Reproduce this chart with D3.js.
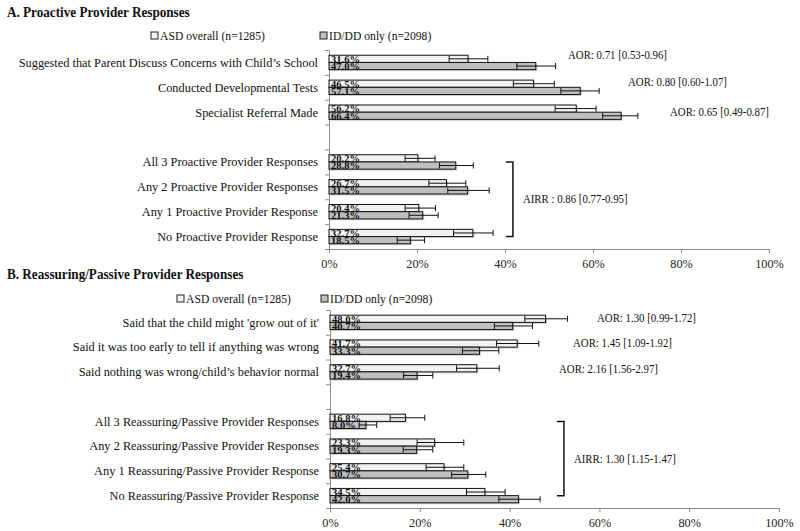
<!DOCTYPE html>
<html><head><meta charset="utf-8">
<script src="https://cdn.jsdelivr.net/npm/d3@7"></script>
<style>body{margin:0;background:#fff}svg{display:block}</style>
</head><body><div id="c"></div>
<script>
// ---------- data ----------
const catsA = ["Suggested that Parent Discuss Concerns with Child\u2019s School","Conducted Developmental Tests","Specialist Referral Made","","All 3 Proactive Provider Responses","Any 2 Proactive Provider Responses","Any 1 Proactive Provider Response","No Proactive Provider Response"];
const asdA   = [31.6,46.5,56.2,null,20.2,26.7,20.4,32.7];
const idA    = [47.0,57.1,66.4,null,28.8,31.5,21.3,18.5];
const asdALo = [27.3,41.9,51.4,null,17.3,22.7,17.3,28.3];
const asdAHi = [36.1,51.2,60.7,null,24.1,31.1,24.2,37.3];
const idALo  = [42.7,52.7,62.2,null,25.1,27.0,18.2,15.5];
const idAHi  = [51.5,61.4,70.2,null,32.8,36.4,24.8,21.7];
const aorA   = ["AOR: 0.71 [0.53-0.96]","AOR: 0.80 [0.60-1.07]","AOR: 0.65 [0.49-0.87]"];
const airrA  = "AIRR : 0.86 [0.77-0.95]";

const catsB = ["Said that the child might 'grow out of it'","Said it was too early to tell if anything was wrong","Said nothing was wrong/child\u2019s behavior normal","","All 3 Reassuring/Passive Provider Responses","Any 2 Reassuring/Passive Provider Responses","Any 1 Reassuring/Passive Provider Response","No Reassuring/Passive Provider Response"];
const asdB   = [48.0,41.7,32.7,null,16.8,23.3,25.4,34.5];
const idB    = [40.7,33.3,19.4,null,8.0,19.3,30.7,42.0];
const asdBLo = [43.4,37.1,28.2,null,13.4,19.4,21.4,30.4];
const asdBHi = [52.9,46.5,37.7,null,21.1,29.8,29.8,39.0];
const idBLo  = [36.6,29.5,16.4,null,6.5,16.3,27.1,37.6];
const idBHi  = [45.1,37.6,22.9,null,10.4,22.9,34.7,46.8];
const aorB   = ["AOR: 1.30 [0.99-1.72]","AOR: 1.45 [1.09-1.92]","AOR: 2.16 [1.56-2.97]"];
const airrB  = "AIRR: 1.30 [1.15-1.47]";

const seriesNames = ["ASD overall (n=1285)","ID/DD only (n=2098)"];
const xTicks = [0,20,40,60,80,100];
const titles = ["A. Proactive Provider Responses","B. Reassuring/Passive Provider Responses"];

// ---------- drawing ----------
const FONT="Liberation Serif";
const W=800,H=531, STRETCH=1.1;
const svg=d3.select("#c").append("svg").attr("width",W).attr("height",H).attr("font-family",FONT);
const colors=["#f2f2f2","#bfbfbf"];

function measure(s,size,weight){
  const t=svg.append("text").attr("font-family",FONT).attr("font-size",size).attr("font-weight",weight||"normal").text(s);
  const w=t.node().getComputedTextLength(); t.remove(); return w;
}
function fit(s,target,weight){ return 100*target/measure(s,100,weight); }
function ctext(g,s,size,weight,stretch){
  const k=stretch==null?STRETCH:stretch;
  const w=measure(s,size,weight);
  const t=g.append("text").attr("font-family",FONT).attr("fill","#111").attr("font-size",size*k).attr("font-weight",weight||"normal").text(s);
  if(w>0 && k!==1) t.attr("textLength",w).attr("lengthAdjust","spacingAndGlyphs");
  return t;
}
const fsCat=fit(catsA[0],288)*1.04;
const fsTitle=fit(titles[0],183,"bold");
const fsLeg=fit(seriesNames[0],105);
const fsAor=fit(aorA[0],99);
const fsVal=fit("31.6%",29,"bold");

function panel(p){
  const g=svg.append("g");
  ctext(g,p.title,fsTitle,"bold").attr("x",7).attr("y",p.titleY);
  seriesNames.forEach((n,i)=>{
    const lx=p.legX[i];
    g.append("rect").attr("x",lx).attr("y",p.legY-4).attr("width",7).attr("height",7).attr("fill",colors[i]).attr("stroke","#222").attr("stroke-width",1);
    ctext(g,n,fsLeg).attr("x",lx+9).attr("y",p.legY).attr("dy","0.35em");
  });
  const x=d3.scaleLinear().domain([0,100]).range([p.x0,p.x1]);
  const y=d3.scaleBand().domain(d3.range(p.cats.length)).range([p.y0,p.y1]);
  const bh=7.2;
  const xa=g.append("g").attr("transform",`translate(0,${p.y1})`).call(d3.axisBottom(x).tickValues(xTicks).tickFormat(d=>d+"%").tickSize(4).tickSizeOuter(0));
  xa.attr("font-family",FONT);
  xa.select(".domain").attr("stroke","#8c8c8c");
  xa.selectAll(".tick line").attr("stroke","#8c8c8c");
  xa.selectAll(".tick text").attr("font-size",fsLeg*1.05).attr("fill","#222").attr("font-family",FONT).attr("dy","1.0em");
  const yb=d3.scaleLinear().domain([0,p.cats.length]).range([p.y0,p.y1]);
  const ya=g.append("g").attr("transform",`translate(${p.x0},0)`).call(d3.axisLeft(yb).tickValues(d3.range(p.cats.length+1)).tickFormat("").tickSize(4).tickSizeOuter(0));
  ya.select(".domain").attr("stroke","#8c8c8c");
  ya.selectAll(".tick line").attr("stroke","#8c8c8c");
  p.cats.forEach((c,i)=>{
    if(!c) return;
    ctext(g,c,fsCat,null,1).attr("x",p.x0-11).attr("y",y(i)+y.bandwidth()/2).attr("dy","0.35em").attr("text-anchor","end");
  });
  const series=[[p.asd,p.asdLo,p.asdHi],[p.id,p.idLo,p.idHi]];
  series.forEach(([vals],s)=>{
    vals.forEach((v,i)=>{
      if(v==null) return;
      const by=y(i)+y.bandwidth()/2-bh+s*bh;
      g.append("rect").attr("x",x(0)+1.5).attr("y",by+1.5).attr("width",x(v)-x(0)).attr("height",bh).attr("fill","#000").attr("opacity",0.18);
      g.append("rect").attr("x",x(0)).attr("y",by).attr("width",x(v)-x(0)).attr("height",bh).attr("fill",colors[s]).attr("stroke","#111").attr("stroke-width",1);
    });
  });
  series.forEach(([vals],s)=>{
    vals.forEach((v,i)=>{
      if(v==null) return;
      const yc=y(i)+y.bandwidth()/2;
      ctext(g,v.toFixed(1)+"%",fsVal,"bold",1).attr("x",x(0)+2).attr("y",yc-bh/2+s*bh).attr("dy","0.36em");
    });
  });
  series.forEach(([vals,lo,hi],s)=>{
    vals.forEach((v,i)=>{
      if(v==null) return;
      const yc=y(i)+y.bandwidth()/2-bh/2+s*bh;
      g.append("line").attr("x1",x(lo[i])).attr("x2",x(hi[i])).attr("y1",yc).attr("y2",yc).attr("stroke","#111").attr("stroke-width",1);
      [lo[i],hi[i]].forEach(e=>g.append("line").attr("x1",x(e)).attr("x2",x(e)).attr("y1",yc-3).attr("y2",yc+3).attr("stroke","#111").attr("stroke-width",1));
    });
  });
  p.aor.forEach((t,i)=>{
    ctext(g,t,fsAor).attr("x",p.aorX[i]).attr("y",y(i)+y.bandwidth()/2+p.aorDY[i]).attr("dy","0.35em");
  });
  const bx=x(p.brX), byT=y(4)+y.bandwidth()/2, byB=y(7)+y.bandwidth()/2;
  g.append("path").attr("d",`M${bx-7},${byT}H${bx}V${byB}H${bx-7}`).attr("fill","none").attr("stroke","#111").attr("stroke-width",1.5);
  ctext(g,p.airr,fsAor).attr("x",bx+10).attr("y",(byT+byB)/2).attr("dy","0.35em");
}

panel({title:titles[0],titleY:17,legX:[151,320],legY:36,x0:329,x1:769,y0:50,y1:249,
  cats:catsA,asd:asdA,id:idA,asdLo:asdALo,asdHi:asdAHi,idLo:idALo,idHi:idAHi,
  aor:aorA,aorX:[568,628,670],aorDY:[-8,-5,0],brX:41.8,airr:airrA});
panel({title:titles[1],titleY:279,legX:[177,321],legY:299,x0:330,x1:779,y0:310,y1:508,
  cats:catsB,asd:asdB,id:idB,asdLo:asdBLo,asdHi:asdBHi,idLo:idBLo,idHi:idBHi,
  aor:aorB,aorX:[597,573,559],aorDY:[-5,-4,-3],brX:52.1,airr:airrB});
</script></body></html>
